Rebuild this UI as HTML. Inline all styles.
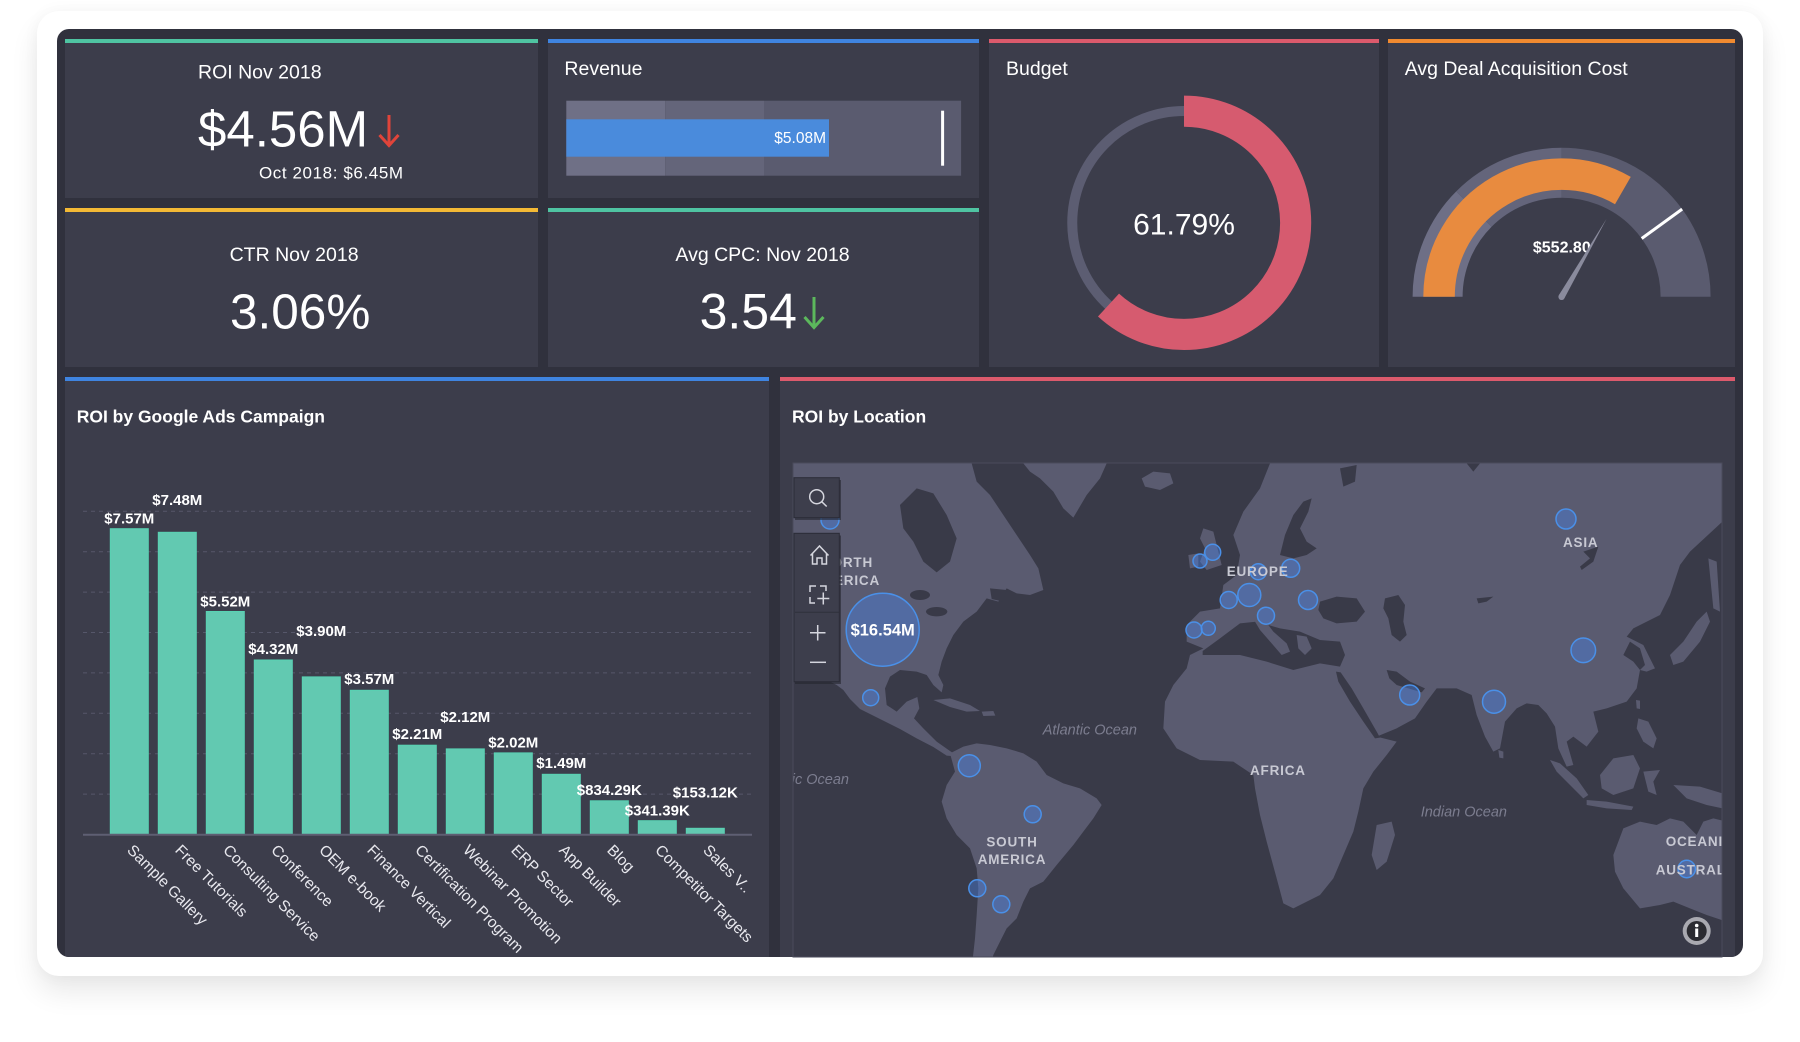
<!DOCTYPE html>
<html><head><meta charset="utf-8"><style>
html,body{margin:0;padding:0;background:#fff;}
body{width:1800px;height:1042px;position:relative;overflow:hidden;font-family:"Liberation Sans",sans-serif;}
.card{position:absolute;left:37px;top:11px;width:1726px;height:965px;border-radius:22px;background:#fff;box-shadow:0 16px 28px rgba(0,0,0,0.09),0 0 16px rgba(0,0,0,0.04);}
svg{position:absolute;left:0;top:0;}
text{font-family:"Liberation Sans",sans-serif;}
</style></head><body>
<div class="card"></div>
<svg width="1800" height="1042" viewBox="0 0 1800 1042">
<defs>
<clipPath id="mapclip"><rect x="793" y="463" width="929" height="494"/></clipPath>
<clipPath id="frameclip"><rect x="57" y="29" width="1686" height="928" rx="12"/></clipPath>
</defs>
<rect x="57" y="29" width="1686" height="928" rx="12" fill="#30313d"/>
<g clip-path="url(#frameclip)">
<!-- panels -->
<rect x="65" y="39" width="473" height="159" fill="#3c3d4b"/><rect x="65" y="39" width="473" height="4" fill="#4fc4a2"/>
<rect x="548" y="39" width="431" height="159" fill="#3c3d4b"/><rect x="548" y="39" width="431" height="4" fill="#3f84e0"/>
<rect x="65" y="208" width="473" height="159" fill="#3c3d4b"/><rect x="65" y="208" width="473" height="4" fill="#f3b935"/>
<rect x="548" y="208" width="431" height="159" fill="#3c3d4b"/><rect x="548" y="208" width="431" height="4" fill="#4fc4a2"/>
<rect x="989" y="39" width="390" height="328" fill="#3c3d4b"/><rect x="989" y="39" width="390" height="4" fill="#dc5a6c"/>
<rect x="1388" y="39" width="347" height="328" fill="#3c3d4b"/><rect x="1388" y="39" width="347" height="4" fill="#f08a30"/>
<rect x="65" y="377" width="704" height="590" fill="#3c3d4b"/><rect x="65" y="377" width="704" height="4" fill="#3f84e0"/>
<rect x="780" y="377" width="955" height="590" fill="#3c3d4b"/><rect x="780" y="377" width="955" height="4" fill="#dc5a6c"/>
</g>

<!-- ROI -->
<text x="198" y="78.5" font-size="19.5" fill="#fff">ROI Nov 2018</text>
<text x="198" y="146.7" font-size="51" fill="#fff">$4.56M</text>
<path d="M389 115 L389 145 M379.5 135 L389 145.5 L398.5 135" stroke="#e0443a" stroke-width="3" fill="none"/>
<text x="403.7" y="178.4" font-size="17" text-anchor="end" fill="#fff" letter-spacing="0.6">Oct 2018: $6.45M</text>

<!-- Revenue -->
<text x="564.4" y="75" font-size="19.5" fill="#fff">Revenue</text>
<rect x="566.3" y="100.7" width="98.9" height="75" fill="#6f7086"/>
<rect x="665.2" y="100.7" width="98.8" height="75" fill="#64657a"/>
<rect x="764" y="100.7" width="197.1" height="75" fill="#5a5b6f"/>
<rect x="566.3" y="119.3" width="262.7" height="37.4" fill="#4a8bdc"/>
<text x="826" y="143.2" font-size="15.5" text-anchor="end" fill="#fff">$5.08M</text>
<rect x="941.1" y="110.7" width="3" height="55" fill="#fff"/>

<!-- CTR -->
<text x="229.6" y="260.8" font-size="19.5" fill="#fff">CTR Nov 2018</text>
<text x="230" y="328.3" font-size="49.5" fill="#fff">3.06%</text>

<!-- CPC -->
<text x="762.5" y="260.8" font-size="19.5" text-anchor="middle" fill="#fff">Avg CPC: Nov 2018</text>
<text x="699.6" y="328.3" font-size="50" fill="#fff">3.54</text>
<path d="M814 297 L814 327 M804.5 317 L814 327.5 L823.5 317" stroke="#5cb85c" stroke-width="3" fill="none"/>

<!-- Budget -->
<text x="1006" y="75" font-size="19.5" fill="#fff">Budget</text>
<circle cx="1184" cy="222.8" r="111.75" fill="none" stroke="#5c5d72" stroke-width="10"/>
<circle cx="1184" cy="222.8" r="111.65" fill="none" stroke="#d65b6f" stroke-width="31.1" stroke-dasharray="433.5 1000" transform="rotate(-90 1184 222.8)"/>
<text x="1184" y="234.5" font-size="30" text-anchor="middle" fill="#fff">61.79%</text>

<!-- Avg Deal -->
<text x="1404.7" y="75" font-size="19.5" fill="#fff">Avg Deal Acquisition Cost</text>
<path d="M1437.6 296.7 A124 124 0 0 1 1473.92 209.02" stroke="#6e6f86" stroke-width="50" fill="none"/>
<path d="M1473.92 209.02 A124 124 0 0 1 1561.6 172.7" stroke="#64657b" stroke-width="50" fill="none"/>
<path d="M1561.6 172.7 A124 124 0 0 1 1685.6 296.7" stroke="#5a5b6f" stroke-width="50" fill="none"/>
<path d="M1439.05 296.7 A122.55 122.55 0 0 1 1622.88 190.57" stroke="#e88b3f" stroke-width="31.5" fill="none"/>
<line x1="1641.69" y1="238.51" x2="1682.14" y2="209.12" stroke="#fff" stroke-width="3"/>
<text x="1561.8" y="252.5" font-size="16" font-weight="bold" text-anchor="middle" fill="#fff">$552.80</text>
<path d="M1564.4 298.3 L1606.6 218.8 L1558.8 295.3 Z" fill="#8a8b9d"/>
<circle cx="1561.6" cy="296.8" r="3.2" fill="#8a8b9d"/>

<!-- Bar chart -->
<text x="76.7" y="422.5" font-size="17.5" font-weight="bold" fill="#fff">ROI by Google Ads Campaign</text>
<g stroke="#56576a" stroke-width="1" stroke-dasharray="4 4">
<line x1="83" y1="794.1" x2="751" y2="794.1"/><line x1="83" y1="753.7" x2="751" y2="753.7"/>
<line x1="83" y1="713.3" x2="751" y2="713.3"/><line x1="83" y1="672.9" x2="751" y2="672.9"/>
<line x1="83" y1="632.5" x2="751" y2="632.5"/><line x1="83" y1="592.1" x2="751" y2="592.1"/>
<line x1="83" y1="551.7" x2="751" y2="551.7"/><line x1="83" y1="511.3" x2="751" y2="511.3"/>
</g>
<g fill="#62c9b1" stroke="#58d3b3" stroke-width="1">
<rect x="110.3" y="528.7" width="38" height="305.8"/>
<rect x="158.3" y="532.3" width="38" height="302.2"/>
<rect x="206.3" y="611.5" width="38" height="223"/>
<rect x="254.3" y="660" width="38" height="174.5"/>
<rect x="302.3" y="676.9" width="38" height="157.6"/>
<rect x="350.3" y="690.3" width="38" height="144.2"/>
<rect x="398.3" y="745.2" width="38" height="89.3"/>
<rect x="446.3" y="748.9" width="38" height="85.6"/>
<rect x="494.3" y="752.9" width="38" height="81.6"/>
<rect x="542.3" y="774.3" width="38" height="60.2"/>
<rect x="590.3" y="800.8" width="38" height="33.7"/>
<rect x="638.3" y="820.7" width="38" height="13.8"/>
<rect x="686.3" y="828.3" width="38" height="6.2"/>
</g>
<line x1="83" y1="834.8" x2="752" y2="834.8" stroke="#5e5f73" stroke-width="2"/>
<g font-size="15" font-weight="bold" fill="#fff" text-anchor="middle">
<text x="129.3" y="523.4">$7.57M</text>
<text x="177.3" y="505.1">$7.48M</text>
<text x="225.3" y="606.3">$5.52M</text>
<text x="273.3" y="654.2">$4.32M</text>
<text x="321.3" y="635.9">$3.90M</text>
<text x="369.3" y="684.2">$3.57M</text>
<text x="417.3" y="739">$2.21M</text>
<text x="465.3" y="721.8">$2.12M</text>
<text x="513.3" y="747.4">$2.02M</text>
<text x="561.3" y="768.2">$1.49M</text>
<text x="609.3" y="794.9">$834.29K</text>
<text x="657.3" y="815.7">$341.39K</text>
<text x="705.3" y="797.5">$153.12K</text>
</g>
<g font-size="15.5" fill="#e8e8ee">
<text transform="translate(126.3 851) rotate(45)">Sample Gallery</text>
<text transform="translate(174.3 851) rotate(45)">Free Tutorials</text>
<text transform="translate(222.3 851) rotate(45)">Consulting Service</text>
<text transform="translate(270.3 851) rotate(45)">Conference</text>
<text transform="translate(318.3 851) rotate(45)">OEM e-book</text>
<text transform="translate(366.3 851) rotate(45)">Finance Vertical</text>
<text transform="translate(414.3 851) rotate(45)">Certification Program</text>
<text transform="translate(462.3 851) rotate(45)">Webinar Promotion</text>
<text transform="translate(510.3 851) rotate(45)">ERP Sector</text>
<text transform="translate(558.3 851) rotate(45)">App Builder</text>
<text transform="translate(606.3 851) rotate(45)">Blog</text>
<text transform="translate(654.3 851) rotate(45)">Competitor Targets</text>
<text transform="translate(702.3 851) rotate(45)">Sales V..</text>
</g>

<!-- Map -->
<text x="792" y="422.5" font-size="17.5" font-weight="bold" fill="#fff">ROI by Location</text>
<g clip-path="url(#mapclip)">
<rect x="793" y="463" width="929" height="494" fill="#393a48"/>
<g transform="translate(790 455) scale(0.333333)" fill="#5a5b70">
<path d="M0 25 L545 25 L560 80 L600 120 L640 180 L680 240 L720 300 L745 340 L760 405 L720 420 L680 415 L650 400 L625 440 L590 430 L560 470 L520 500 L490 540 L470 580 L455 620 L445 660 L460 690 L455 712 L430 690 L410 660 L380 650 L330 645 L300 665 L285 700 L290 750 L320 770 L350 740 L382 726 L388 760 L372 790 L400 820 L440 860 L480 888 L505 905 L470 902 L430 876 L380 850 L330 822 L270 792 L210 762 L180 732 L160 705 L140 690 L100 670 L0 660 Z"/>
<path d="M700 25 L950 25 L930 70 L890 120 L850 188 L820 160 L790 110 L750 70 L720 50 Z"/>
<path d="M1055 70 L1090 50 L1140 55 L1150 85 L1110 105 L1065 95 Z"/>
<path d="M430 735 L480 730 L540 750 L570 768 L530 770 L480 756 Z"/>
<path d="M575 770 L610 768 L616 782 L580 783 Z"/>
<path d="M480 895 L520 875 L560 865 L600 870 L650 880 L700 895 L740 920 L770 960 L820 985 L870 1000 L920 1030 L935 1050 L910 1090 L880 1130 L850 1170 L800 1230 L760 1280 L720 1300 L700 1340 L680 1390 L650 1420 L630 1460 L610 1500 L600 1540 L545 1540 L555 1450 L560 1380 L565 1300 L560 1240 L540 1180 L500 1140 L470 1090 L455 1040 L470 990 L495 950 Z"/>
<g fill="#393a48">
<path d="M330 150 L380 100 L430 115 L470 180 L500 250 L480 320 L440 352 L400 320 L370 260 L340 220 Z"/>
<ellipse cx="390" cy="420" rx="30" ry="15"/>
<ellipse cx="440" cy="470" rx="32" ry="14"/>
<path d="M600 400 L650 405 L640 440 L605 432 Z"/>
</g>
</g>
<g transform="translate(1240 455) scale(0.333333)" fill="#5a5b70">
<path d="M90 25 L1447 25 L1447 200 L1350 290 L1320 330 L1290 420 L1260 480 L1180 520 L1160 545 L1210 570 L1245 640 L1220 650 L1200 645 L1190 700 L1160 740 L1100 760 L1060 770 L1075 830 L1040 875 L1000 845 L980 860 L1000 930 L980 935 L955 880 L945 815 L920 775 L895 750 L860 745 L830 760 L795 800 L780 880 L760 890 L735 845 L710 780 L695 720 L650 700 L590 700 L560 740 L525 790 L470 820 L410 845 L470 860 L440 900 L400 950 L370 1000 L355 1070 L340 1130 L310 1200 L280 1270 L240 1320 L160 1360 L130 1345 L110 1270 L80 1160 L60 1080 L45 1000 L40 960 L-20 920 L-120 915 L-190 880 L-230 820 L-225 740 L-200 690 L-160 640 L-150 600 L-110 580 L-160 560 L-160 510 L-120 470 L-60 460 L-50 390 L-10 360 L0 300 L-20 240 L10 170 L60 100 Z"/>
<g fill="#393a48">
<path d="M-112 588 L-60 550 L0 505 L50 500 L120 520 L180 530 L240 555 L300 560 L315 600 L300 635 L240 625 L160 645 L80 620 L0 600 L-112 600 Z"/>
<path d="M240 440 L290 425 L350 430 L375 470 L350 500 L290 505 L250 490 L235 465 Z"/>
<path d="M435 430 L475 420 L495 450 L490 500 L500 540 L480 560 L455 540 L445 490 L430 460 Z"/>
<path d="M120 300 L135 240 L160 180 L190 140 L215 130 L205 170 L180 220 L200 260 L230 280 L200 300 L160 310 Z"/>
<path d="M300 40 L350 30 L345 80 L310 95 Z"/>
<path d="M680 25 L720 25 L700 50 Z"/>
<path d="M1030 290 L1075 275 L1060 320 L1025 345 L1020 335 L1050 310 Z"/>
<path d="M710 430 L760 425 L740 440 L715 445 Z"/>
<path d="M288 650 L302 652 L335 700 L370 760 L410 830 L420 848 L405 850 L370 800 L330 740 L295 680 Z"/>
<path d="M440 645 L470 650 L510 680 L555 700 L545 712 L505 700 L470 690 L448 670 Z"/>
<path d="M1170 560 L1200 580 L1215 630 L1200 645 L1180 620 L1150 600 Z"/>
</g>
<path d="M40 480 L70 490 L100 530 L140 565 L150 590 L125 600 L95 565 L60 525 L45 500 Z"/>
<path d="M170 540 L200 545 L215 580 L195 600 L175 580 Z"/>
<path d="M-110 220 L-80 230 L-65 290 L-55 330 L-100 345 L-120 320 L-105 280 L-120 250 Z"/>
<path d="M-155 300 L-125 295 L-125 335 L-150 340 Z"/>
<path d="M1290 600 L1330 560 L1370 500 L1400 470 L1410 500 L1380 560 L1330 620 L1300 630 Z"/>
<path d="M1405 310 L1430 320 L1440 470 L1420 460 Z"/>
<path d="M1188 735 L1200 737 L1200 762 L1190 760 Z"/>
<path d="M1195 790 L1225 800 L1250 850 L1240 880 L1210 860 L1190 820 Z"/>
<path d="M930 915 L960 925 L1010 970 L1045 1020 L1030 1030 L990 990 L950 950 Z"/>
<path d="M1040 1035 L1100 1040 L1180 1055 L1175 1065 L1100 1060 L1040 1050 Z"/>
<path d="M1080 960 L1120 910 L1180 900 L1200 940 L1180 1000 L1120 1020 L1085 1000 Z"/>
<path d="M1210 950 L1260 945 L1240 980 L1250 1020 L1225 1010 Z"/>
<path d="M1300 990 L1380 995 L1447 1015 L1447 1060 L1400 1050 L1340 1030 Z"/>
<path d="M1125 1250 L1120 1200 L1150 1120 L1200 1100 L1250 1110 L1290 1090 L1330 1100 L1370 1140 L1390 1100 L1420 1090 L1460 1100 L1460 1400 L1400 1380 L1350 1360 L1300 1340 L1260 1350 L1200 1360 L1150 1300 Z"/>
<path d="M410 1110 L455 1100 L465 1140 L440 1220 L410 1245 L395 1200 Z"/>
<path d="M775 885 L790 890 L790 910 L778 908 Z"/>
</g>
<!-- bubbles -->
<g fill="rgba(72,130,230,0.42)" stroke="#4a90e8" stroke-width="1.5">
<circle cx="830" cy="520" r="9"/>
<circle cx="882.7" cy="629.7" r="36.5"/>
<circle cx="870.7" cy="697.7" r="8"/>
<circle cx="969.3" cy="765.7" r="11"/>
<circle cx="1032.7" cy="814.3" r="8.5"/>
<circle cx="977.3" cy="888.3" r="8.5"/>
<circle cx="1001.3" cy="904.3" r="8.5"/>
<circle cx="1200" cy="561" r="7"/>
<circle cx="1212.7" cy="552.3" r="8"/>
<circle cx="1258.3" cy="571.7" r="8"/>
<circle cx="1290.7" cy="568.3" r="9"/>
<circle cx="1228.7" cy="600" r="8.5"/>
<circle cx="1249.3" cy="595" r="11.5"/>
<circle cx="1266" cy="615.7" r="8.5"/>
<circle cx="1194" cy="630" r="8"/>
<circle cx="1208.3" cy="628.3" r="7"/>
<circle cx="1308" cy="600" r="9.5"/>
<circle cx="1566" cy="519" r="10"/>
<circle cx="1583.3" cy="650.3" r="12.3"/>
<circle cx="1409.7" cy="695" r="10"/>
<circle cx="1494" cy="701.7" r="11.5"/>
<circle cx="1686.7" cy="869" r="8.7"/>
</g>
<text x="882.7" y="635.5" font-size="16.5" font-weight="bold" text-anchor="middle" fill="#fff">$16.54M</text>
<g font-size="13.5" font-weight="bold" fill="#c8c9d3" letter-spacing="0.8">
<text x="873" y="567" text-anchor="end">NORTH</text>
<text x="880" y="585" text-anchor="end">AMERICA</text>
<text x="1226.7" y="576">EUROPE</text>
<text x="1563" y="547">ASIA</text>
<text x="1250" y="775">AFRICA</text>
<text x="1012" y="846.5" text-anchor="middle">SOUTH</text>
<text x="1012" y="864" text-anchor="middle">AMERICA</text>
<text x="1665.7" y="846">OCEANIA</text>
<text x="1655.7" y="874.7">AUSTRALIA</text>
</g>
<g font-size="14.5" font-style="italic" fill="#7c7d8f">
<text x="1042.7" y="734.5">Atlantic Ocean</text>
<text x="849" y="784" text-anchor="end">Pacific Ocean</text>
<text x="1420.7" y="816.5">Indian Ocean</text>
</g>
</g>
<rect x="793" y="463" width="929" height="494" fill="none" stroke="#4a4b5b" stroke-width="1"/>
<!-- toolbar -->
<rect x="795" y="480" width="46" height="40" fill="#25262f" opacity="0.6"/>
<rect x="794" y="477.7" width="45.3" height="40" fill="#3d3e4c" stroke="#2b2c37" stroke-width="1"/>
<rect x="795" y="535.5" width="46" height="148.5" fill="#25262f" opacity="0.6"/>
<rect x="794" y="533.3" width="45.3" height="148.4" fill="#3d3e4c" stroke="#2b2c37" stroke-width="1"/>
<line x1="795" y1="612.3" x2="839" y2="612.3" stroke="#2f303b" stroke-width="1"/>
<g stroke="#d5d6de" stroke-width="1.5" fill="none">
<circle cx="816.7" cy="496.7" r="7"/>
<line x1="821.7" y1="501.7" x2="826.7" y2="506.5"/>
<path d="M810.5 555.5 L819.5 546 L828.5 555.5 M812.5 553.5 L812.5 564 L817 564 L817 558 L822 558 L822 564 L826.5 564 L826.5 553.5"/>
<path d="M810 592 L810 586 L816 586 M820 586 L826 586 L826 591 M810 597 L810 603 L815 603"/>
<path d="M823.3 592.5 L823.3 604.5 M817.3 598.5 L829.3 598.5"/>
<path d="M810 632.7 L825.5 632.7 M817.7 625 L817.7 640.5"/>
<path d="M810 662.3 L826 662.3"/>
</g>
<!-- info icon -->
<circle cx="1696.7" cy="931" r="14" fill="#a9a9b0"/>
<circle cx="1696.7" cy="931" r="10" fill="#2b2b31"/>
<circle cx="1696.7" cy="925.5" r="1.8" fill="#fff"/>
<rect x="1695.2" y="928.5" width="3" height="8.5" fill="#fff"/>
</svg>
</body></html>
